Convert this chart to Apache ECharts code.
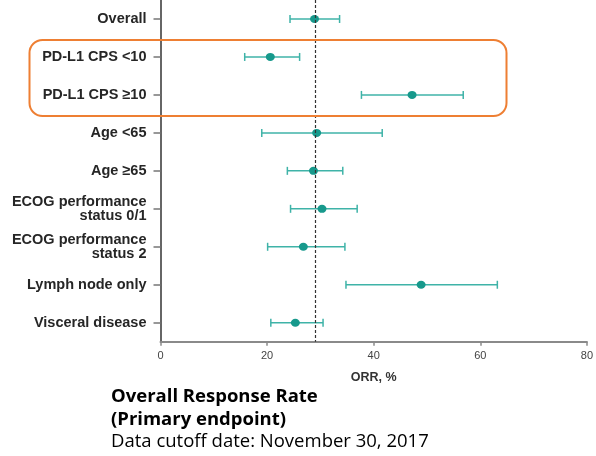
<!DOCTYPE html>
<html>
<head>
<meta charset="utf-8">
<script src="https://cdn.jsdelivr.net/npm/echarts@6/dist/echarts.min.js"></script>
<style>html,body{margin:0;padding:0;background:#fff;}#c{width:596px;height:456px;}</style>
</head>
<body>
<div id="c"></div>
<script>
var categories = ['Overall', 'PD-L1 CPS <10', 'PD-L1 CPS \u226510', 'Age <65', 'Age \u226565',
  'ECOG performance\nstatus 0/1', 'ECOG performance\nstatus 2', 'Lymph node only', 'Visceral disease'];
var orr   = [28.9, 20.6, 47.2, 29.3, 28.7, 30.3, 26.8, 48.9, 25.3];
var lower = [24.3, 15.8, 37.7, 19.0, 23.8, 24.4, 20.1, 34.8, 20.7];
var upper = [33.6, 26.1, 56.8, 41.6, 34.2, 36.9, 34.6, 63.2, 30.5];
var refValue = 29.0;
var xTicks = [0, 20, 40, 60, 80];

var chart = echarts.init(document.getElementById('c'));
var errData = categories.map(function (c, i) { return [i, lower[i], upper[i]]; });
var ptData = categories.map(function (c, i) { return [orr[i], i]; });

var titleFont = { fontFamily: 'Open Sans', fontSize: 18.5, color: '#000' };
chart.setOption({
  animation: false,
  textStyle: { fontFamily: 'Liberation Sans' },
  grid: { left: 160.5, right: 6, top: -1, bottom: 114.3 },
  title: [
    { text: 'Overall Response Rate', left: 111, top: 387, padding: 0,
      textStyle: Object.assign({}, titleFont, { fontWeight: 'bold' }) },
    { text: '(Primary endpoint)', left: 111, top: 410, padding: 0,
      textStyle: Object.assign({}, titleFont, { fontWeight: 'bold' }) },
    { text: 'Data cutoff date: November 30, 2017', left: 111, top: 432, padding: 0,
      textStyle: Object.assign({}, titleFont, { fontWeight: 'normal' }) }
  ],
  xAxis: {
    type: 'value', min: 0, max: 80, interval: 20,
    name: 'ORR, %', nameLocation: 'middle', nameGap: 29,
    nameTextStyle: { fontFamily: 'Liberation Sans', fontWeight: 'bold', fontSize: 12.5, color: '#333' },
    axisLine: { show: true, lineStyle: { color: '#8a8a8a', width: 2 } },
    axisTick: { show: true, length: 4, lineStyle: { color: '#8a8a8a', width: 1.5 } },
    axisLabel: { color: '#444', fontFamily: 'Liberation Sans', fontSize: 11, margin: 9,
      formatter: function (v) { return xTicks.indexOf(v) >= 0 ? String(v) : ''; } },
    splitLine: { show: false }
  },
  yAxis: {
    type: 'category', data: categories, inverse: true,
    axisLine: { show: true, lineStyle: { color: '#333', width: 1.5 } },
    axisTick: { show: true, alignWithLabel: true, length: 7, lineStyle: { color: '#777', width: 1.5 } },
    axisLabel: { color: '#262626', fontFamily: 'Liberation Sans', fontWeight: 'bold', fontSize: 14.5,
      margin: 14, lineHeight: 14, align: 'right' }
  },
  series: [
    {
      type: 'custom',
      data: errData,
      z: 2,
      renderItem: function (params, api) {
        var yi = api.value(0);
        var lo = api.coord([api.value(1), yi]);
        var hi = api.coord([api.value(2), yi]);
        var h = 4;
        var st = { stroke: '#3fb3a8', lineWidth: 1.5 };
        return {
          type: 'group',
          children: [
            { type: 'line', shape: { x1: lo[0], y1: lo[1], x2: hi[0], y2: hi[1] }, style: st },
            { type: 'line', shape: { x1: lo[0], y1: lo[1] - h, x2: lo[0], y2: lo[1] + h }, style: st },
            { type: 'line', shape: { x1: hi[0], y1: hi[1] - h, x2: hi[0], y2: hi[1] + h }, style: st }
          ]
        };
      },
      encode: { x: [1, 2], y: 0 }
    },
    {
      type: 'scatter',
      data: ptData,
      symbol: 'circle',
      symbolSize: [9, 8],
      z: 3,
      itemStyle: { color: '#17998c', opacity: 1 },
      markLine: {
        silent: true, symbol: 'none', label: { show: false },
        lineStyle: { color: '#333', type: [3, 2], width: 1.2 },
        data: [{ xAxis: refValue }]
      }
    }
  ],
  graphic: [
    { type: 'rect', shape: { x: 29.5, y: 40, width: 477, height: 76, r: 13 },
      style: { fill: 'none', stroke: '#ee7f33', lineWidth: 2 }, z: 10 }
  ]
});
</script>
</body>
</html>
